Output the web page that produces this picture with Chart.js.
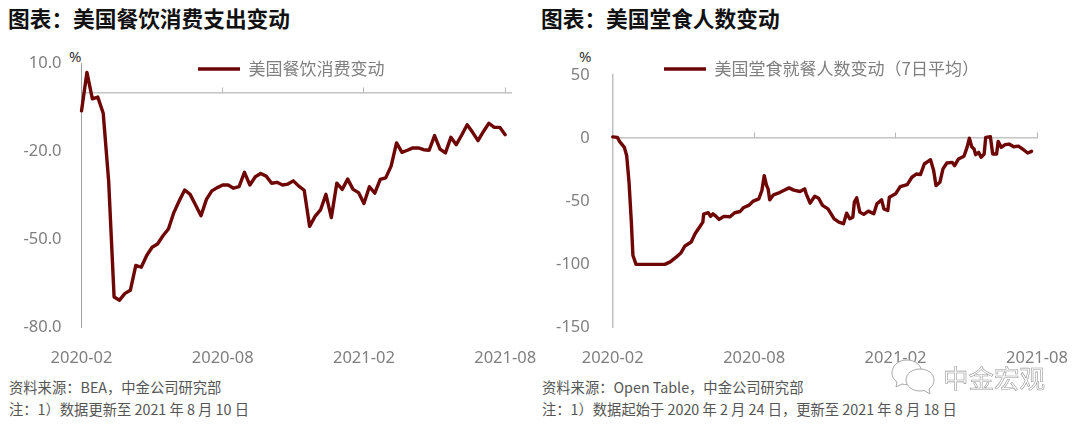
<!DOCTYPE html>
<html lang="zh">
<head>
<meta charset="utf-8">
<title>美国餐饮消费与堂食人数变动</title>
<script src="https://cdn.jsdelivr.net/npm/chart.js@4/dist/chart.umd.js"></script>
<style>
    html, body { margin: 0; padding: 0; background: #fff; }
    body { position: relative; width: 1080px; height: 424px; overflow: hidden; font-family: "Noto Sans CJK SC", sans-serif; }
    canvas { position: absolute; top: 0; }
    .chart_title { position: absolute; top: 4px; font-size: 21.7px; line-height: 28px; font-weight: 700; color: #111; white-space: nowrap; }
    .unit { position: absolute; top: 45px; font-family: "Noto Sans", sans-serif; font-size: 15px; line-height: 22px; color: #333; }
    .note { position: absolute; font-size: 14.3px; line-height: 18px; color: #555; white-space: nowrap; }
    .mark_text { position: absolute; left: 943px; top: 361px; font-size: 25.5px; line-height: 32px; color: #fff; -webkit-text-stroke: 0.6px #999; white-space: nowrap; }
    svg { position: absolute; left: 890px; top: 358px; }
</style>
</head>
<body>

<div class="chart_title" style="left:8px">图表：美国餐饮消费支出变动</div>
<div class="chart_title" style="left:541px">图表：美国堂食人数变动</div>
<div class="unit" style="left:69px">%</div>
<div class="unit" style="left:579px">%</div>

<canvas id="graph_spend" width="540" height="370" style="left:0"></canvas>
<canvas id="graph_diners" width="540" height="370" style="left:540px"></canvas>

<div class="note" style="left:9px;top:378px">资料来源：BEA，中金公司研究部</div>
<div class="note" style="left:9px;top:400px">注：1）数据更新至 2021 年 8 月 10 日</div>
<div class="note" style="left:542px;top:378px">资料来源：Open Table，中金公司研究部</div>
<div class="note" style="left:542px;top:400px">注：1）数据起始于 2020 年 2 月 24 日，更新至 2021 年 8 月 18 日</div>

<svg width="46" height="38" viewBox="0 0 46 38" fill="#fff" stroke="#a8a8a8" stroke-width="1">
    <path d="M17 2C8 2 2 8 2 15c0 4 2 7 5 9l-1 5 6-3c2 .5 3 .6 5 .6 9 0 15-6 15-12S26 2 17 2z"/>
    <path d="M30 11c-8 0-14 5-14 11s6 11 14 11c1.500 0 3-.2 4-.6l6 3.600-1-5c3-2 5-5 5-9 0-6-6-11-14-11z"/>
</svg>
<div class="mark_text">中金宏观</div>

<script>
/* 图表一：美国餐饮消费变动，周度，横轴单位为周 */
var spendName = '美国餐饮消费变动';
var spendValues = [
    -6.3, 6.8, -2.2, -1.6, -7.1, -30.2, -69.6, -70.7, -68.4, -67.3,
    -58.9, -59.5, -55.5, -52.7, -51.6, -48.8, -46.5, -40.9, -36.9, -33.2,
    -34.7, -38.3, -42, -36.4, -33.5, -32.4, -31.5, -31.5, -32.6, -32.1,
    -27.2, -31.5, -28.7, -27.6, -28.5, -30.9, -30.6, -31.5, -31.2, -30.1,
    -31.9, -33.3, -45.6, -42.2, -40, -34.7, -42.6, -30.9, -33, -29.5,
    -33, -34.1, -37.8, -32.1, -34.3, -29.6, -29.1, -25.1, -17.2, -20.4,
    -19.7, -18.9, -18.9, -19.5, -19.7, -14.7, -19.3, -20.6, -15.3, -17.8,
    -14.5, -11, -13.6, -16.4, -13.3, -10.5, -11.9, -11.9, -14.4
];
var spendXTicks = [0, 26, 52, 78];
var spendYTicks = [10, -20, -50, -80];

/* 图表二：美国堂食就餐人数变动，横轴单位为 2020-02 起的天数 */
var dinerName = '美国堂食就餐人数变动（7日平均）';
var dinerDays = [
    0, 6, 9, 15, 18, 21, 24, 26, 30, 37, 67, 74, 82, 88, 93, 101, 106, 111, 116, 117,
    123, 126, 129, 133, 137, 143, 151, 157, 164, 168, 175, 181, 188, 192, 195, 198, 200, 202, 207, 213,
    220, 227, 233, 241, 247, 249, 254, 260, 265, 270, 277, 285, 291, 297, 301, 305, 309, 311, 314, 318,
    323, 329, 336, 340, 346, 349, 354, 356, 364, 370, 379, 385, 391, 396, 401, 409, 413, 416, 421, 425,
    430, 437, 440, 445, 452, 456, 459, 462, 465, 467, 471, 474, 478, 480, 486, 489, 494, 496, 500, 505,
    510, 516, 522, 529, 534, 539
];
var dinerValues = [
    1, 0.6, -2.8, -7.3, -13.9, -34.9, -66.5, -92.8, -100, -100, -100, -98, -94.1, -90.7, -85.4, -82.3, -75.7, -71.2, -66.5, -60.2,
    -59.1, -62, -59.9, -62, -64.4, -62, -62.3, -59.1, -58.1, -55.2, -53.3, -49.9, -48.1, -41.5, -29.7, -37.6, -40.2, -48.9, -44.9, -43.6,
    -41.5, -39.4, -41.2, -42.3, -40.2, -44.1, -51.5, -46, -47.6, -53.3, -56, -63.9, -66.5, -67.8, -59.4, -63.9, -62.6, -50.7, -47.3, -58.6,
    -60.4, -57.8, -59.9, -52, -48.9, -56, -57.3, -46.8, -44.1, -38.4, -36.8, -31, -28.4, -28.9, -20.5, -17.1, -25.7, -37.6, -35, -24.4,
    -19.7, -19.2, -21.8, -16.5, -14.4, -7.3, 0, -6.8, -8.6, -13.1, -11.3, -15.2, -12.6, 0.6, 1.1, -12.6, -12.6, -2.6, -7.3, -5.2,
    -4.7, -6.8, -6.3, -9.4, -11.8, -10.5
];
var dinerXTicks = [0, 182, 364, 546];
var dinerYTicks = [50, 0, -50, -100, -150];

var xTickLabels = ['2020-02', '2020-08', '2021-02', '2021-08'];

var LineColor = '#6e0606';
var TextColor = '#7f7f7f';
var AxisFont = { family: '"Noto Sans", sans-serif', size: 16.5 };

/* legend sits inside the plot, so move it after the layout is done */
var moveLegend = {
    id: 'moveLegend',
    afterLayout(chart) {
        var opts = chart.options.plugins.moveLegend;
        var legend = chart.legend;
        legend.right += opts.left - legend.left;
        legend.left = opts.left;
        legend.bottom += opts.top - legend.top;
        legend.top = opts.top;
    }
};

function fixedTicks(list) {
    return function (scale) { scale.ticks = list.map(value => ({ value: value })); };
}

/* labels may hang over the plot edge without shrinking it */
function noOverhang(scale) {
    scale.paddingLeft = 0;
    scale.paddingRight = 0;
    scale.paddingTop = 0;
    scale.paddingBottom = 0;
}

function Plot(id, name, points, xTicks, xMax, yTicks, yLabel, cfg) {
    return new Chart(document.getElementById(id), {
        type: 'line',
        data: {
            datasets: [{
                label: name,
                data: points,
                borderColor: LineColor,
                backgroundColor: LineColor,
                borderWidth: cfg.lineWidth,
                borderCapStyle: 'round',
                borderJoinStyle: 'round',
                pointRadius: 0,
                tension: 0,
                clip: false
            }]
        },
        options: {
            responsive: false,
            animation: false,
            parsing: { xAxisKey: 'x', yAxisKey: 'y' },
            layout: { padding: { left: 0, right: cfg.right, top: cfg.top, bottom: 0 } },
            plugins: {
                tooltip: { enabled: false },
                moveLegend: { left: cfg.legendLeft, top: 60.5 },
                legend: {
                    position: 'top',
                    align: 'start',
                    labels: {
                        padding: 0,
                        color: TextColor,
                        font: { family: '"Noto Sans CJK SC", sans-serif', size: 17 },
                        usePointStyle: true,
                        pointStyle: 'line',
                        pointStyleWidth: 42
                    }
                }
            },
            scales: {
                x: {
                    type: 'linear',
                    min: 0,
                    max: xMax,
                    afterBuildTicks: fixedTicks(xTicks),
                    afterFit(scale) { noOverhang(scale); scale.height = 42.5; },
                    border: { display: false },
                    grid: { display: false },
                    ticks: {
                        autoSkip: false,
                        maxRotation: 0,
                        padding: 12.5,
                        color: TextColor,
                        font: AxisFont,
                        callback: (value, i) => xTickLabels[i]
                    }
                },
                zero: {
                    type: 'linear',
                    axis: 'x',
                    position: { y: 0 },
                    min: 0,
                    max: xMax,
                    afterBuildTicks: fixedTicks(xTicks),
                    afterFit: noOverhang,
                    border: { color: '#c4c4c4', width: 1.5 },
                    grid: { drawOnChartArea: false, tickLength: -6, color: '#b4b4b4', tickWidth: 1 },
                    ticks: { display: false }
                },
                y: {
                    type: 'linear',
                    min: yTicks[yTicks.length - 1],
                    max: yTicks[0],
                    afterBuildTicks: fixedTicks(yTicks),
                    afterFit(scale) { noOverhang(scale); scale.width = cfg.axisLeft; },
                    border: { color: cfg.yAxisColor, width: cfg.yAxisWidth },
                    grid: { drawOnChartArea: false, drawTicks: false },
                    ticks: {
                        padding: cfg.yPadding,
                        color: TextColor,
                        font: AxisFont,
                        callback: yLabel
                    }
                }
            }
        },
        plugins: [moveLegend]
    });
}

Plot('graph_spend', spendName,
    spendValues.map((y, x) => ({ x: x, y: y })),
    spendXTicks, 79.2, spendYTicks, value => value.toFixed(1),
    { lineWidth: 3.4, right: 28.3, top: 36, axisLeft: 81.5, yPadding: 20, legendLeft: 198, yAxisColor: '#a0a0a0', yAxisWidth: 1 });

Plot('graph_diners', dinerName,
    dinerDays.map((x, i) => ({ x: x, y: dinerValues[i] })),
    dinerXTicks, 546, dinerYTicks, value => String(value),
    { lineWidth: 3.4, right: 43, top: 48, axisLeft: 72.7, yPadding: 23, legendLeft: 124, yAxisColor: '#c0c0c0', yAxisWidth: 1.5 });
</script>
</body>
</html>
